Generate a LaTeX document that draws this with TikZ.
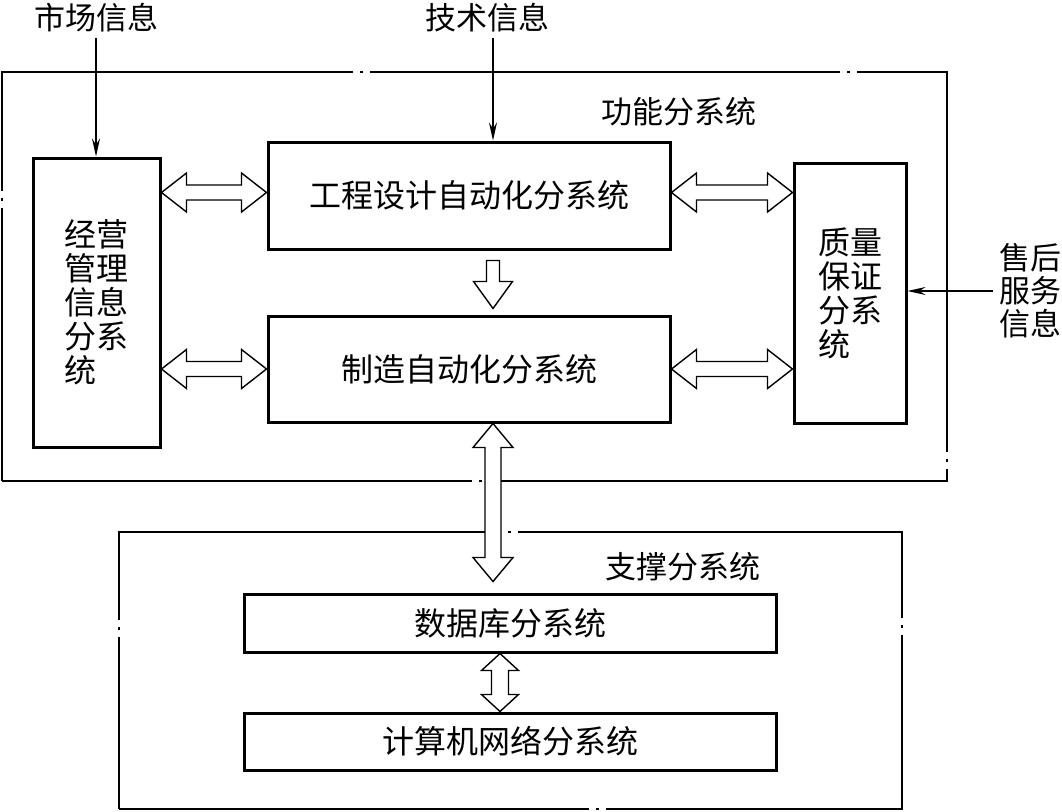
\documentclass[tikz,border=0pt]{standalone}
\usepackage{fontspec}
\setmainfont{Noto Sans CJK SC}
\usetikzlibrary{calc, arrows.meta}
\tikzset{
    box/.style={
        rectangle, draw, line width=3pt, align=center,
        font=\fontsize{32}{34}\selectfont, inner sep=0pt
    },
    frame/.style={
        rectangle, draw, line width=1.4pt,
        dash pattern=on 470pt off 7pt on 3pt off 7pt
    },
    txt/.style={
        font=\fontsize{31}{33}\selectfont, inner sep=0pt, outer sep=6pt,
        align=left
    },
    mm/.style={
        line width=1.3pt, -{Stealth[length=18pt, width=8pt, inset=6pt]}
    },
    oo/.style args={#1/#2/#3}{
        draw, fill=white, line width=1.4pt,
        to path={
            -- ($(\tikztostart)!#1!(\tikztotarget)!#2!90:(\tikztotarget)$)
            -- ($(\tikztostart)!#1!(\tikztotarget)!#3!90:(\tikztotarget)$)
            -- ($(\tikztotarget)!#1!(\tikztostart)!#3!-90:(\tikztostart)$)
            -- ($(\tikztotarget)!#1!(\tikztostart)!#2!-90:(\tikztostart)$)
            -- (\tikztotarget)
            -- ($(\tikztotarget)!#1!(\tikztostart)!#2!90:(\tikztostart)$)
            -- ($(\tikztotarget)!#1!(\tikztostart)!#3!90:(\tikztostart)$)
            -- ($(\tikztostart)!#1!(\tikztotarget)!#3!-90:(\tikztotarget)$)
            -- ($(\tikztostart)!#1!(\tikztotarget)!#2!-90:(\tikztotarget)$)
            -- cycle
        }
    },
    mo/.style args={#1/#2/#3}{
        draw, fill=white, line width=1.4pt,
        to path={
            -- ($(\tikztostart)!#3!90:(\tikztotarget)$)
            -- ($(\tikztotarget)!#1!(\tikztostart)!#3!-90:(\tikztostart)$)
            -- ($(\tikztotarget)!#1!(\tikztostart)!#2!-90:(\tikztostart)$)
            -- (\tikztotarget)
            -- ($(\tikztotarget)!#1!(\tikztostart)!#2!90:(\tikztostart)$)
            -- ($(\tikztotarget)!#1!(\tikztostart)!#3!90:(\tikztostart)$)
            -- ($(\tikztostart)!#3!-90:(\tikztotarget)$)
            -- cycle
        }
    }
}

\begin{document}
\begin{tikzpicture}[x=1pt, y=-1pt]
        \useasboundingbox (0,0) rectangle (1062,811);

        % Frames

        \node[frame, minimum width=945pt, minimum height=409pt] (func) at (474.5,276.5) {};
        \node[frame, minimum width=783pt, minimum height=277pt] (supp) at (510.5,670.5) {};
        \node[txt] (funclbl) at (679,112) {功能分系统};
        \node[txt] (supplbl) at (683,567) {支撑分系统};

        % Function subsystems

        \node[box, minimum width=127pt, minimum height=289pt, align=left] (mis) at (96.5,302.5) {经营\\管理\\信息\\分系\\统};
        \node[box, minimum width=402pt, minimum height=107pt] (eng) at (469,195.5) {工程设计自动化分系统};
        \node[box, minimum width=402pt, minimum height=106pt] (mfg) at (469,369) {制造自动化分系统};
        \node[box, minimum width=112pt, minimum height=260pt, align=left] (qa) at (850,293) {质量\\保证\\分系\\统};

        % Support subsystems

        \node[box, minimum width=532pt, minimum height=58pt] (db) at (510,623) {数据库分系统};
        \node[box, minimum width=532pt, minimum height=57pt] (net) at (510,741.5) {计算机网络分系统};

        % Outside information

        \node[txt] (mkt) at (96,18) {市场信息};
        \node[txt] (tech) at (487,18) {技术信息};
        \node[txt] (svc) at (1030,291) {售后\\服务\\信息};
        \coordinate (col) at (493,0);

        \draw[mm] (mkt.south) -- (mkt.south |- mis.north);
        \draw[mm] (tech.south -| col) -- (col |- eng.north);
        \draw[mm] (svc.west) -- (svc.west -| qa.east);

        % Hollow arrows

        \draw[oo=25pt/19.5pt/7.5pt] ($(mis.east |- eng.west)+(0,-3)$) to ($(eng.west)+(0,-3)$);
        \draw[oo=25pt/19.5pt/7.5pt] (mis.east |- mfg.west) to (mfg.west);
        \draw[oo=25pt/19.5pt/7.5pt] ($(eng.east)+(0,-3)$) to ($(qa.west |- eng.east)+(0,-3)$);
        \draw[oo=25pt/19.5pt/7.5pt] (mfg.east) to (qa.west |- mfg.east);
        \draw[mo=27pt/19.5pt/6.5pt] ($(col |- eng.south)+(0,10)$) to ($(col |- mfg.north)+(0,-6)$);
        \draw[oo=24pt/20pt/8pt] (col |- mfg.south) to ($(col |- db.north)+(0,-11)$);
        \draw[oo=17pt/18.5pt/8.5pt] ($(db.south)+(-10,0)$) to ($(net.north)+(-10,0)$);
    \end{tikzpicture}
\end{document}
